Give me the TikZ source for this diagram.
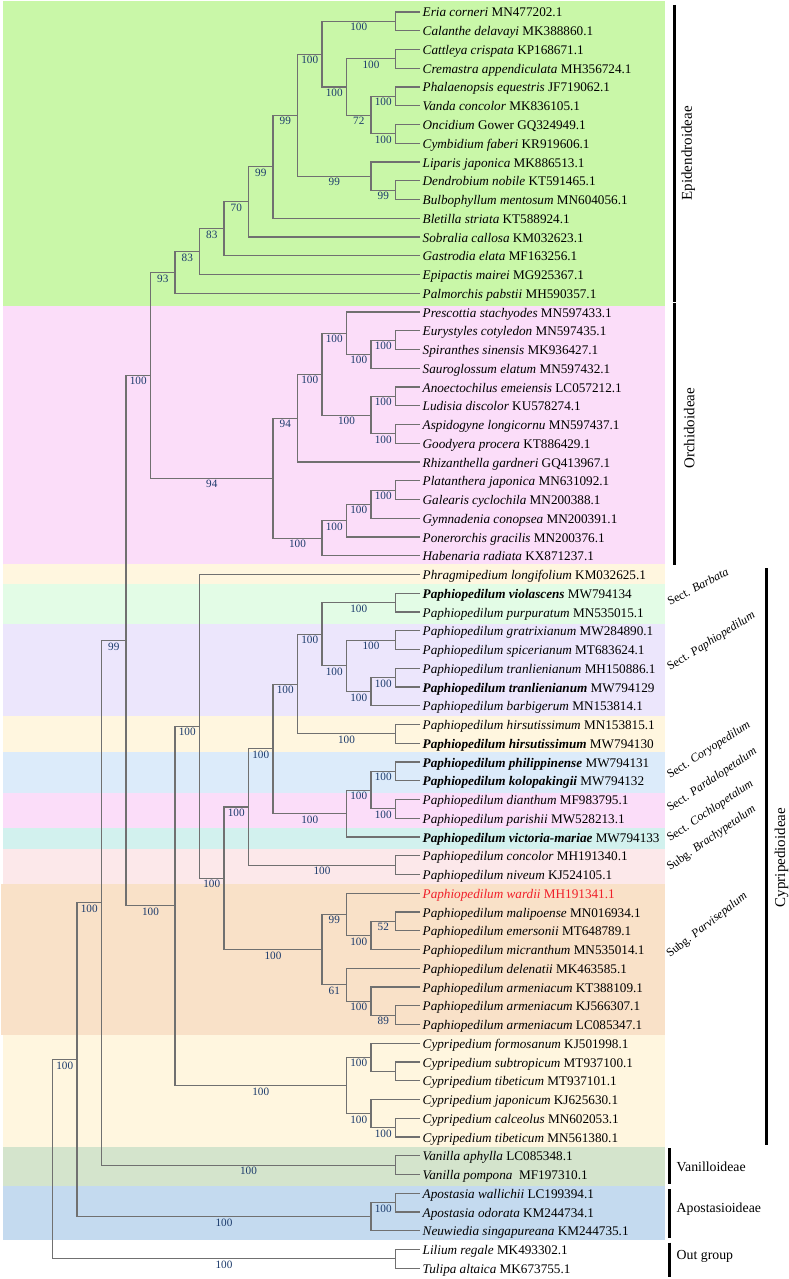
\documentclass[tikz,border=0pt]{standalone}
\usepackage{fontspec}
\setmainfont{Liberation Serif}
\usetikzlibrary{calc}
\definecolor{cEpi}{HTML}{C9F7A8}
\definecolor{cOrc}{HTML}{FBDDF9}
\definecolor{cCre}{HTML}{FFF6DF}
\definecolor{cMin}{HTML}{E3FCE6}
\definecolor{cLav}{HTML}{ECE6FC}
\definecolor{cBlu}{HTML}{DCEBFA}
\definecolor{cTea}{HTML}{D2F1EE}
\definecolor{cLpk}{HTML}{FCE8EA}
\definecolor{cPea}{HTML}{F9E1C8}
\definecolor{cVan}{HTML}{D4E4CC}
\definecolor{cApo}{HTML}{C4DAEF}
\definecolor{brc}{HTML}{707070}
\definecolor{labc}{HTML}{1B3A6B}
\definecolor{wardc}{HTML}{F0202A}
\tikzset{
 br/.style={draw=brc, line width=1.1pt},
 lab/.style={pos=0.75, anchor=base, yshift=-9.6pt, inner sep=0pt, text=labc, font=\fontsize{11.2}{12}\selectfont},
 lt/.style={anchor=base west, inner sep=0pt, font=\fontsize{13.2}{15}\selectfont},
 grp/.style={inner sep=0pt, font=\fontsize{15}{17}\selectfont},
 grpb/.style={inner sep=0pt, anchor=west, font=\fontsize{13.8}{16}\selectfont},
 sublab/.style={anchor=base west, inner sep=0pt, font=\fontsize{12}{14}\selectfont},
 bar/.style={line width=3pt, black},
}
\newcommand{\myleaf}[2]{\coordinate (l#1) at (420,{12+18.75*#1});
 \node[lt] (t#1) at (422.5,{17+18.75*#1}) {#2};}
\newcommand{\myclade}[4]{\path let \p1=($(#3)!.5!(#4)$) in (#2pt,\y1) coordinate (#1);}
\newcommand{\myedge}[3]{\draw[br] (#1) |- node[lab]{#3} (#2);}
\begin{document}
\begin{tikzpicture}[x=1pt,y=-1pt]
\useasboundingbox (0,0) rectangle (789,1279);
\fill[white] (0,0) rectangle (789,1279);
% background bands
\fill[cEpi] (3,1) rectangle (665,306);
\fill[cOrc] (3,306) rectangle (665,564);
\fill[cCre] (3,564) rectangle (665,584);
\fill[cMin] (3,584) rectangle (665,624);
\fill[cLav] (3,624) rectangle (665,716);
\fill[cCre] (3,716) rectangle (665,752);
\fill[cBlu] (3,752) rectangle (665,793);
\fill[cOrc] (3,793) rectangle (665,828);
\fill[cTea] (3,828) rectangle (665,849);
\fill[cLpk] (3,849) rectangle (665,884);
\fill[cPea] (1,884) rectangle (665,1035);
\fill[cCre] (3,1035) rectangle (665,1147);
\fill[cVan] (3,1147) rectangle (665,1186);
\fill[cApo] (3,1186) rectangle (665,1240);
% leaves
\myleaf{0}{\textit{Eria corneri} MN477202.1}
\myleaf{1}{\textit{Calanthe delavayi} MK388860.1}
\myleaf{2}{\textit{Cattleya crispata} KP168671.1}
\myleaf{3}{\textit{Cremastra appendiculata} MH356724.1}
\myleaf{4}{\textit{Phalaenopsis equestris} JF719062.1}
\myleaf{5}{\textit{Vanda concolor} MK836105.1}
\myleaf{6}{\textit{Oncidium} Gower GQ324949.1}
\myleaf{7}{\textit{Cymbidium faberi} KR919606.1}
\myleaf{8}{\textit{Liparis japonica} MK886513.1}
\myleaf{9}{\textit{Dendrobium nobile} KT591465.1}
\myleaf{10}{\textit{Bulbophyllum mentosum} MN604056.1}
\myleaf{11}{\textit{Bletilla striata} KT588924.1}
\myleaf{12}{\textit{Sobralia callosa} KM032623.1}
\myleaf{13}{\textit{Gastrodia elata} MF163256.1}
\myleaf{14}{\textit{Epipactis mairei} MG925367.1}
\myleaf{15}{\textit{Palmorchis pabstii} MH590357.1}
\myleaf{16}{\textit{Prescottia stachyodes} MN597433.1}
\myleaf{17}{\textit{Eurystyles cotyledon} MN597435.1}
\myleaf{18}{\textit{Spiranthes sinensis} MK936427.1}
\myleaf{19}{\textit{Sauroglossum elatum} MN597432.1}
\myleaf{20}{\textit{Anoectochilus emeiensis} LC057212.1}
\myleaf{21}{\textit{Ludisia discolor} KU578274.1}
\myleaf{22}{\textit{Aspidogyne longicornu} MN597437.1}
\myleaf{23}{\textit{Goodyera procera} KT886429.1}
\myleaf{24}{\textit{Rhizanthella gardneri} GQ413967.1}
\myleaf{25}{\textit{Platanthera japonica} MN631092.1}
\myleaf{26}{\textit{Galearis cyclochila} MN200388.1}
\myleaf{27}{\textit{Gymnadenia conopsea} MN200391.1}
\myleaf{28}{\textit{Ponerorchis gracilis} MN200376.1}
\myleaf{29}{\textit{Habenaria radiata} KX871237.1}
\myleaf{30}{\textit{Phragmipedium longifolium} KM032625.1}
\myleaf{31}{\textbf{\textit{Paphiopedilum violascens}} MW794134}
\myleaf{32}{\textit{Paphiopedilum purpuratum} MN535015.1}
\myleaf{33}{\textit{Paphiopedilum gratrixianum} MW284890.1}
\myleaf{34}{\textit{Paphiopedilum spicerianum} MT683624.1}
\myleaf{35}{\textit{Paphiopedilum tranlienianum} MH150886.1}
\myleaf{36}{\textbf{\textit{Paphiopedilum tranlienianum}} MW794129}
\myleaf{37}{\textit{Paphiopedilum barbigerum} MN153814.1}
\myleaf{38}{\textit{Paphiopedilum hirsutissimum} MN153815.1}
\myleaf{39}{\textbf{\textit{Paphiopedilum hirsutissimum}} MW794130}
\myleaf{40}{\textbf{\textit{Paphiopedilum philippinense}} MW794131}
\myleaf{41}{\textbf{\textit{Paphiopedilum kolopakingii}} MW794132}
\myleaf{42}{\textit{Paphiopedilum dianthum} MF983795.1}
\myleaf{43}{\textit{Paphiopedilum parishii} MW528213.1}
\myleaf{44}{\textbf{\textit{Paphiopedilum victoria-mariae}} MW794133}
\myleaf{45}{\textit{Paphiopedilum concolor} MH191340.1}
\myleaf{46}{\textit{Paphiopedilum niveum} KJ524105.1}
\myleaf{47}{\color{wardc}\textit{Paphiopedilum wardii} MH191341.1}
\myleaf{48}{\textit{Paphiopedilum malipoense} MN016934.1}
\myleaf{49}{\textit{Paphiopedilum emersonii} MT648789.1}
\myleaf{50}{\textit{Paphiopedilum micranthum} MN535014.1}
\myleaf{51}{\textit{Paphiopedilum delenatii} MK463585.1}
\myleaf{52}{\textit{Paphiopedilum armeniacum} KT388109.1}
\myleaf{53}{\textit{Paphiopedilum armeniacum} KJ566307.1}
\myleaf{54}{\textit{Paphiopedilum armeniacum} LC085347.1}
\myleaf{55}{\textit{Cypripedium formosanum} KJ501998.1}
\myleaf{56}{\textit{Cypripedium subtropicum} MT937100.1}
\myleaf{57}{\textit{Cypripedium tibeticum} MT937101.1}
\myleaf{58}{\textit{Cypripedium japonicum} KJ625630.1}
\myleaf{59}{\textit{Cypripedium calceolus} MN602053.1}
\myleaf{60}{\textit{Cypripedium tibeticum} MN561380.1}
\myleaf{61}{\textit{Vanilla aphylla} LC085348.1}
\myleaf{62}{\textit{Vanilla pompona}\ \ MF197310.1}
\myleaf{63}{\textit{Apostasia wallichii} LC199394.1}
\myleaf{64}{\textit{Apostasia odorata} KM244734.1}
\myleaf{65}{\textit{Neuwiedia singapureana} KM244735.1}
\myleaf{66}{\textit{Lilium regale} MK493302.1}
\myleaf{67}{\textit{Tulipa altaica} MK673755.1}
% Epidendroideae clades
\myclade{e1}{395.5}{l0}{l1}
\myclade{e2}{395.5}{l2}{l3}
\myclade{e3}{395.5}{l4}{l5}
\myclade{e4}{395.5}{l6}{l7}
\myclade{e5}{371}{e3}{e4}
\myclade{e6}{346.5}{e2}{e5}
\myclade{e7}{322}{e1}{e6}
\myclade{e8}{395.5}{l9}{l10}
\myclade{e9}{371}{l8}{e8}
\myclade{e10}{297.5}{e7}{e9}
\myclade{e11}{273}{e10}{l11}
\myclade{e12}{248.5}{e11}{l12}
\myclade{e13}{224}{e12}{l13}
\myclade{e14}{199.5}{e13}{l14}
\myclade{e15}{175}{e14}{l15}
% Orchidoideae clades
\myclade{o1}{395.5}{l17}{l18}
\myclade{o2}{371}{o1}{l19}
\myclade{o3}{346.5}{l16}{o2}
\myclade{o4}{395.5}{l20}{l21}
\myclade{o4b}{395.5}{l22}{l23}
\myclade{o5}{371}{o4}{o4b}
\myclade{o6}{322}{o3}{o5}
\myclade{o7}{297.5}{o6}{l24}
\myclade{o8}{395.5}{l25}{l26}
\myclade{o9}{371}{o8}{l27}
\myclade{o10}{346.5}{o9}{l28}
\myclade{o11}{322}{o10}{l29}
\myclade{o12}{273}{o7}{o11}
\myclade{r11}{150.5}{e15}{o12}
% Cypripedioideae clades
\myclade{c1}{395.5}{l31}{l32}
\myclade{c2}{395.5}{l33}{l34}
\myclade{c3}{395.5}{l35}{l36}
\myclade{c4}{371}{c3}{l37}
\myclade{c5}{346.5}{c2}{c4}
\myclade{c6}{322}{c1}{c5}
\myclade{c7}{395.5}{l38}{l39}
\myclade{c8}{297.5}{c6}{c7}
\myclade{c9}{395.5}{l40}{l41}
\myclade{c10}{395.5}{l42}{l43}
\myclade{c11}{371}{c9}{c10}
\myclade{c12}{346.5}{c11}{l44}
\myclade{c13}{273}{c8}{c12}
\myclade{c14}{395.5}{l45}{l46}
\myclade{c15}{248.5}{c13}{c14}
\myclade{c16}{395.5}{l48}{l49}
\myclade{c17}{371}{c16}{l50}
\myclade{c18}{346.5}{l47}{c17}
\myclade{c19}{395.5}{l53}{l54}
\myclade{c20}{371}{l52}{c19}
\myclade{c20b}{346.5}{l51}{c20}
\myclade{c21}{322}{c18}{c20b}
\myclade{c22}{224}{c15}{c21}
\myclade{c23}{199.5}{l30}{c22}
\myclade{p1}{395.5}{l56}{l57}
\myclade{p2}{371}{l55}{p1}
\myclade{p3}{395.5}{l59}{l60}
\myclade{p4}{371}{l58}{p3}
\myclade{p5}{346.5}{p2}{p4}
\myclade{cR}{175}{c23}{p5}
\myclade{r12}{126}{r11}{cR}
\myclade{v1}{395.5}{l61}{l62}
\myclade{r13}{101.5}{r12}{v1}
\myclade{a1}{395.5}{l63}{l64}
\myclade{a2}{371}{a1}{l65}
\myclade{r14}{77}{r13}{a2}
\myclade{g1}{395.5}{l66}{l67}
\myclade{root}{52.5}{r14}{g1}
% edges: Epidendroideae
\myedge{e1}{l0}{} \myedge{e1}{l1}{}
\myedge{e2}{l2}{} \myedge{e2}{l3}{}
\myedge{e3}{l4}{} \myedge{e3}{l5}{}
\myedge{e4}{l6}{} \myedge{e4}{l7}{}
\myedge{e5}{e3}{100} \myedge{e5}{e4}{100}
\myedge{e6}{e2}{100} \myedge{e6}{e5}{72}
\myedge{e7}{e1}{100} \myedge{e7}{e6}{100}
\myedge{e8}{l9}{} \myedge{e8}{l10}{}
\myedge{e9}{l8}{} \myedge{e9}{e8}{99}
\myedge{e10}{e7}{100} \myedge{e10}{e9}{99}
\myedge{e11}{e10}{99} \myedge{e11}{l11}{}
\myedge{e12}{e11}{99} \myedge{e12}{l12}{}
\myedge{e13}{e12}{70} \myedge{e13}{l13}{}
\myedge{e14}{e13}{83} \myedge{e14}{l14}{}
\myedge{e15}{e14}{83} \myedge{e15}{l15}{}
% Orchidoideae
\myedge{o1}{l17}{} \myedge{o1}{l18}{}
\myedge{o2}{o1}{100} \myedge{o2}{l19}{}
\myedge{o3}{l16}{} \myedge{o3}{o2}{100}
\myedge{o4}{l20}{} \myedge{o4}{l21}{}
\myedge{o4b}{l22}{} \myedge{o4b}{l23}{}
\myedge{o5}{o4}{100} \myedge{o5}{o4b}{100}
\myedge{o6}{o3}{100} \myedge{o6}{o5}{100}
\myedge{o7}{o6}{100} \myedge{o7}{l24}{}
\myedge{o8}{l25}{} \myedge{o8}{l26}{}
\myedge{o9}{o8}{100} \myedge{o9}{l27}{}
\myedge{o10}{o9}{100} \myedge{o10}{l28}{}
\myedge{o11}{o10}{100} \myedge{o11}{l29}{}
\myedge{o12}{o7}{94} \myedge{o12}{o11}{100}
\myedge{r11}{e15}{93} \myedge{r11}{o12}{94}
% Cypripedioideae
\myedge{c1}{l31}{} \myedge{c1}{l32}{}
\myedge{c2}{l33}{} \myedge{c2}{l34}{}
\myedge{c3}{l35}{} \myedge{c3}{l36}{}
\myedge{c4}{c3}{100} \myedge{c4}{l37}{}
\myedge{c5}{c2}{100} \myedge{c5}{c4}{100}
\myedge{c6}{c1}{100} \myedge{c6}{c5}{100}
\myedge{c7}{l38}{} \myedge{c7}{l39}{}
\myedge{c8}{c6}{100} \myedge{c8}{c7}{100}
\myedge{c9}{l40}{} \myedge{c9}{l41}{}
\myedge{c10}{l42}{} \myedge{c10}{l43}{}
\myedge{c11}{c9}{100} \myedge{c11}{c10}{100}
\myedge{c12}{c11}{100} \myedge{c12}{l44}{}
\myedge{c13}{c8}{100} \myedge{c13}{c12}{100}
\myedge{c14}{l45}{} \myedge{c14}{l46}{}
\myedge{c15}{c13}{100} \myedge{c15}{c14}{100}
\myedge{c16}{l48}{} \myedge{c16}{l49}{}
\myedge{c17}{c16}{52} \myedge{c17}{l50}{}
\myedge{c18}{l47}{} \myedge{c18}{c17}{100}
\myedge{c19}{l53}{} \myedge{c19}{l54}{}
\myedge{c20}{l52}{} \myedge{c20}{c19}{89}
\myedge{c20b}{l51}{} \myedge{c20b}{c20}{100}
\myedge{c21}{c18}{99} \myedge{c21}{c20b}{61}
\myedge{c22}{c15}{100} \myedge{c22}{c21}{100}
\myedge{c23}{l30}{} \myedge{c23}{c22}{100}
\myedge{p1}{l56}{} \myedge{p1}{l57}{}
\myedge{p2}{l55}{} \myedge{p2}{p1}{}
\myedge{p3}{l59}{} \myedge{p3}{l60}{}
\myedge{p4}{l58}{} \myedge{p4}{p3}{100}
\myedge{p5}{p2}{100} \myedge{p5}{p4}{100}
\myedge{cR}{c23}{100} \myedge{cR}{p5}{100}
\myedge{r12}{r11}{100} \myedge{r12}{cR}{100}
\myedge{v1}{l61}{} \myedge{v1}{l62}{}
\myedge{r13}{r12}{99} \myedge{r13}{v1}{100}
\myedge{a1}{l63}{} \myedge{a1}{l64}{}
\myedge{a2}{a1}{100} \myedge{a2}{l65}{}
\myedge{r14}{r13}{100} \myedge{r14}{a2}{100}
\myedge{g1}{l66}{} \myedge{g1}{l67}{}
\myedge{root}{r14}{100} \myedge{root}{g1}{100}
% group bars
\draw[bar] (674,5) -- (674,301.5);
\draw[bar] (674,303) -- (674,565);
\draw[bar] (766.7,568.3) -- (766.7,1145);
\draw[bar] (669.3,1148.3) -- (669.3,1184);
\draw[bar] (669.3,1189.3) -- (669.3,1238.3);
\draw[bar] (669.3,1242.7) -- (669.3,1276.7);
% group labels
\node[grp, rotate=90] (gEpi) at (688.3,153.3) {Epidendroideae};
\node[grp, rotate=90] (gOrc) at (689.3,428.3) {Orchidoideae};
\node[grp, rotate=90] (gCyp) at (781.5,857.5) {Cypripedioideae};
\node[grpb] (gVan) at (676.5,1167.3) {Vanilloideae};
\node[grpb] (gApo) at (676.5,1209.3) {Apostasioideae};
\node[grpb] (gOut) at (676.5,1256.7) {Out group};
% section labels
\node[sublab, rotate=28] (sBar) at (670,606) {Sect. \textit{Barbata}};
\node[sublab, rotate=32] (sPap) at (670,671) {Sect. \textit{Paphiopedilum}};
\node[sublab, rotate=33] (sCor) at (670,779) {Sect. \textit{Coryopedilum}};
\node[sublab, rotate=34] (sPar) at (670,812) {Sect. \textit{Pardalopetalum}};
\node[sublab, rotate=34] (sCoc) at (670,842) {Sect. \textit{Cochlopetalum}};
\node[sublab, rotate=35] (sBra) at (670,871) {Subg. \textit{Brachypetalum}};
\node[sublab, rotate=38] (sPrv) at (670,958) {Subg. \textit{Parvisepalum}};
\end{tikzpicture}
\end{document}
